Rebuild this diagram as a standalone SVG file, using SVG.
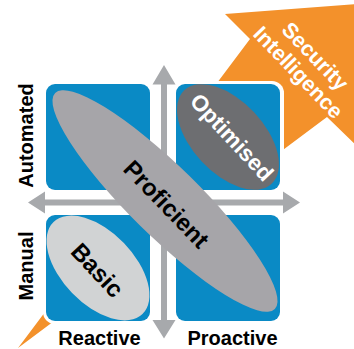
<svg xmlns="http://www.w3.org/2000/svg" width="354" height="349" viewBox="0 0 354 349">
  <style>
    .lbl { font-family: "Liberation Sans", Arial, sans-serif; font-weight: bold; font-size: 20px; fill: #000; }
    .big { font-family: "Liberation Sans", Arial, sans-serif; font-weight: bold; text-anchor: middle; }
    .quad { fill: #0a8ac5; }
    .axis { fill: #a7a9ac; }
  </style>
  <rect width="354" height="349" fill="#fff"/>

  <!-- large orange arrow running behind the grid -->
  <g id="security-intelligence">
    <polygon points="18,348 250,39 225,14 370,3 358,147 327,117" fill="#f3912b"/>
    <g transform="translate(307,64) rotate(46)" class="big" font-size="21.5" fill="#fff">
      <text x="0" y="-4">Security</text>
      <text x="0" y="19.5">Intelligence</text>
    </g>
  </g>

  <!-- white backing for the 2x2 grid -->
  <rect x="43" y="81" width="241" height="243" rx="12" fill="#fff"/>

  <g id="quadrant-tl"><rect class="quad" x="46" y="84" width="104" height="106" rx="9"/></g>
  <g id="quadrant-tr"><rect class="quad" x="176" y="84" width="104" height="106" rx="9"/></g>
  <g id="quadrant-bl"><rect class="quad" x="46" y="215" width="104" height="106" rx="9"/></g>
  <g id="quadrant-br"><rect class="quad" x="176" y="215" width="104" height="106" rx="9"/></g>

  <!-- axes -->
  <g id="axes">
    <path class="axis" d="M28,202.5 L45,191.5 L45,199.5 L283,199.5 L283,191.5 L300,202.5 L283,213.5 L283,205.5 L45,205.5 L45,213.5 Z"/>
    <path class="axis" d="M164,65 L175.5,84.5 L167,84.5 L167,320 L175.5,320 L164,338.5 L152.5,320 L161,320 L161,84.5 L152.5,84.5 Z"/>
  </g>

  <g id="basic">
    <ellipse cx="98" cy="268" rx="64" ry="36" transform="rotate(46 98 268)" fill="#d1d3d4"/>
    <text class="big" font-size="24" fill="#000" transform="translate(97.5,270) rotate(47)" x="0" y="8.5">Basic</text>
  </g>

  <g id="optimised">
    <ellipse cx="228" cy="137" rx="64" ry="36" transform="rotate(47 228 137)" fill="#6d6e71"/>
    <text class="big" font-size="22.5" fill="#fff" transform="translate(232,137) rotate(47)" x="0" y="8">Optimised</text>
  </g>

  <g id="proficient">
    <ellipse cx="165" cy="201" rx="154" ry="35" transform="rotate(44.5 165 201)" fill="#a6a5a9"/>
    <text class="big" font-size="24" fill="#000" transform="translate(166.5,204) rotate(46)" x="0" y="8.5">Proficient</text>
  </g>

  <!-- axis labels -->
  <text class="lbl" text-anchor="middle" transform="translate(33,135.5) rotate(-90)">Automated</text>
  <text class="lbl" text-anchor="middle" transform="translate(33,266) rotate(-90)">Manual</text>
  <text class="lbl" text-anchor="middle" x="99.5" y="345">Reactive</text>
  <text class="lbl" text-anchor="middle" x="232.5" y="345">Proactive</text>
</svg>
